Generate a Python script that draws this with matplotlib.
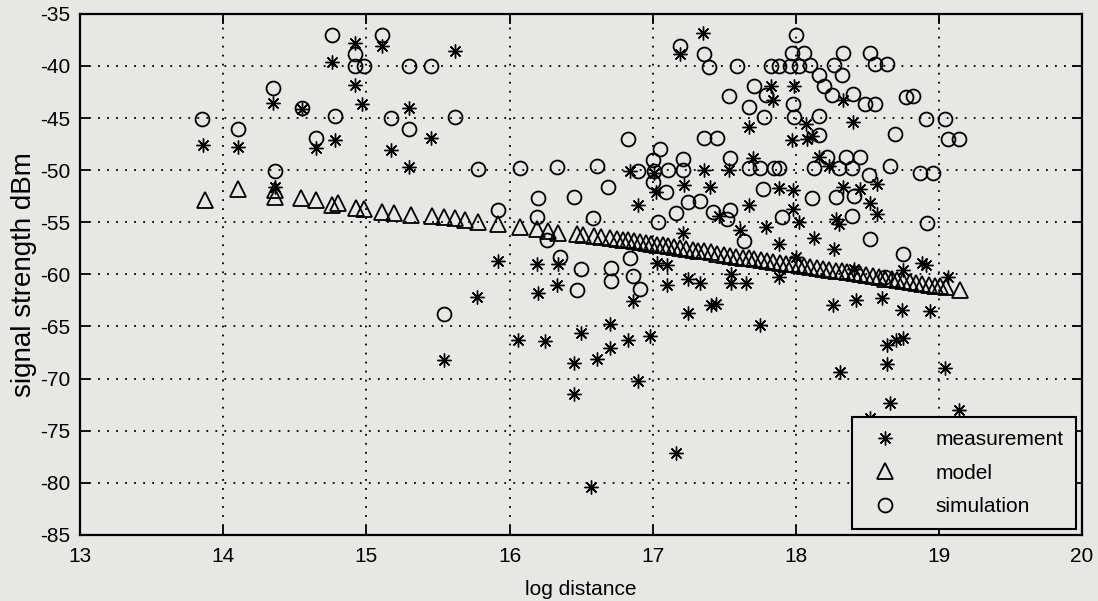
import matplotlib
matplotlib.use("Agg")
import matplotlib.pyplot as plt

# values
meas_x = [13.86, 14.10, 14.35, 14.55, 14.65, 14.78, 14.36, 14.76,
          14.92, 15.11, 14.92, 14.97, 15.30, 15.17, 15.45, 15.30, 15.62,
          15.92, 16.19, 16.34, 16.33, 16.20, 15.77,
          15.54, 16.06, 16.25, 16.50, 16.45, 16.61, 16.45, 16.57, 16.70, 16.70,
          17.35, 17.19, 17.83, 17.99, 17.84, 18.33, 18.40, 17.67, 18.07, 18.11,
          17.97, 18.08, 17.70, 18.16, 18.23, 16.84, 17.36, 17.53, 17.01, 17.40,
          17.22, 17.88, 17.98, 18.33, 18.45, 18.57, 16.90, 17.02, 17.67, 17.46,
          17.61, 17.79, 18.02, 17.98, 18.28, 18.30, 18.52, 18.57, 18.13, 18.27,
          17.21, 17.88, 18.00, 17.03, 17.10, 17.10, 17.25, 17.33, 17.55, 17.65,
          17.55, 17.88, 16.86, 17.44, 18.26, 18.42, 18.60, 18.74,
          18.88, 18.91, 18.75, 19.06, 18.94, 18.41,
          17.25, 17.41, 17.75, 16.83, 16.98, 16.90, 17.16, 18.31, 18.64, 18.64,
          18.66, 18.52, 18.70, 18.75, 19.04, 19.14]
meas_y = [-47.6, -47.8, -43.6, -44.1, -47.9, -47.1, -51.6, -39.6,
          -37.8, -38.1, -41.8, -43.7, -44.0, -48.1, -46.9, -49.7, -38.6,
          -58.7, -59.0, -59.0, -61.0, -61.8, -62.2,
          -68.2, -66.3, -66.4, -65.6, -68.5, -68.1, -71.5, -80.4, -64.8, -67.1,
          -36.8, -38.9, -41.9, -41.9, -43.3, -43.3, -45.4, -45.9, -45.6, -46.7,
          -47.1, -47.0, -48.8, -48.7, -49.6, -50.1, -50.0, -50.0, -50.3, -51.6,
          -51.4, -51.7, -51.9, -51.6, -51.8, -51.3, -53.3, -52.1, -53.3, -54.4,
          -55.7, -55.5, -55.0, -53.7, -54.7, -55.2, -53.2, -54.2, -56.5, -57.6,
          -56.0, -57.1, -58.3, -58.9, -59.1, -61.0, -60.4, -60.8, -60.8, -60.8,
          -60.0, -60.3, -62.6, -62.8, -62.9, -62.5, -62.3, -63.4,
          -58.9, -59.1, -59.6, -60.3, -63.5, -59.5,
          -63.7, -62.9, -64.9, -66.3, -65.9, -70.2, -77.1, -69.4, -66.8, -68.6,
          -72.3, -73.8, -66.3, -66.1, -69.0, -73.0]

model_x = [13.87, 14.10, 14.36, 14.36, 14.54, 14.65, 14.76, 14.80, 14.93, 14.98,
           15.11, 15.19, 15.31, 15.46, 15.54, 15.62, 15.69, 15.78, 15.92, 16.07,
           16.19, 16.27, 16.34, 16.47, 16.51, 16.59, 16.64, 16.70,
           16.75, 16.79, 16.83, 16.87, 16.91, 16.95, 16.99, 17.03, 17.07, 17.11,
           17.15, 17.19, 17.23, 17.28, 17.32, 17.36, 17.41, 17.45, 17.50, 17.54,
           17.58, 17.63, 17.67, 17.71, 17.76, 17.80, 17.84, 17.89, 17.93, 17.97,
           18.02, 18.06, 18.10, 18.15, 18.19, 18.23, 18.28, 18.32, 18.36, 18.41,
           18.45, 18.49, 18.54, 18.58, 18.62, 18.67, 18.71, 18.75, 18.80, 18.84,
           18.88, 18.93, 18.97, 19.01, 19.05, 19.15]
model_y = [-52.9, -51.8, -51.9, -52.6, -52.7, -52.9, -53.3, -53.2, -53.6, -53.7,
           -54.0, -54.1, -54.3, -54.4, -54.5, -54.6, -54.8, -55.0, -55.2, -55.5,
           -55.6, -55.8, -56.0, -56.1, -56.2, -56.3, -56.4, -56.5,
           -56.6, -56.7, -56.7, -56.8, -56.9, -57.0, -57.1, -57.2, -57.2, -57.3,
           -57.4, -57.5, -57.6, -57.7, -57.8, -57.8, -57.9, -58.0, -58.1, -58.2,
           -58.3, -58.4, -58.4, -58.5, -58.6, -58.7, -58.8, -58.9, -59.0, -59.0,
           -59.1, -59.2, -59.3, -59.4, -59.5, -59.6, -59.7, -59.7, -59.8, -59.9,
           -60.0, -60.1, -60.2, -60.3, -60.4, -60.4, -60.5, -60.6, -60.7, -60.8,
           -60.9, -61.0, -61.1, -61.1, -61.2, -61.5]

sim_x = [14.76, 13.85, 14.10, 14.35, 14.55, 14.65, 14.78, 14.36,
         15.11, 14.92, 14.92, 14.98, 15.30, 15.45, 15.17, 15.30, 15.62, 15.78,
         16.07, 16.33, 16.61, 16.69, 16.20, 16.45, 15.92, 16.19, 16.58, 16.26,
         16.35, 16.50, 16.47, 16.71, 16.71, 15.54,
         17.19, 17.36, 17.39, 17.59, 17.83, 17.88, 17.96, 18.00, 17.97, 18.06,
         18.02, 18.10, 18.16, 18.20, 18.25, 18.27, 18.33, 18.32, 18.40, 18.48,
         18.55, 18.52, 18.55, 18.64, 17.53, 17.71, 17.79, 17.67, 17.78, 17.98,
         17.99, 18.16, 18.16, 18.69, 16.83, 17.36, 17.45, 17.05, 17.00, 17.21,
         17.54, 16.90, 17.01, 17.11, 17.21, 17.00, 17.09, 17.67, 17.75, 17.85,
         17.88, 18.13, 18.22, 18.35, 18.45, 18.30, 18.39, 18.51, 18.66, 17.77,
         17.25, 17.33, 17.16, 17.42, 17.54, 17.52, 17.90, 18.11, 18.28, 18.41,
         18.39, 17.04, 17.64, 18.52, 18.75, 16.84, 16.86, 16.91,
         18.77, 18.82, 18.91, 19.04, 19.06, 19.14, 18.87, 18.96, 18.92, 18.62]
sim_y = [-37.0, -45.1, -46.1, -42.1, -44.0, -46.9, -44.8, -50.1,
         -37.0, -38.9, -40.0, -40.0, -40.0, -40.0, -45.0, -46.1, -44.9, -49.9,
         -49.8, -49.7, -49.6, -51.6, -52.7, -52.6, -53.8, -54.5, -54.6, -56.7,
         -58.3, -59.5, -61.5, -59.4, -60.6, -63.8,
         -38.1, -38.9, -40.1, -40.0, -40.0, -40.0, -40.0, -37.0, -38.8, -38.8,
         -40.0, -39.9, -40.9, -41.9, -42.8, -39.9, -38.8, -40.9, -42.7, -43.7,
         -43.7, -38.8, -39.8, -39.8, -42.9, -41.9, -42.8, -43.9, -44.9, -43.7,
         -44.9, -44.8, -46.6, -46.5, -47.0, -46.9, -46.9, -48.0, -49.0, -48.9,
         -48.8, -50.1, -50.1, -50.0, -50.0, -51.1, -52.1, -49.8, -49.8, -49.8,
         -49.8, -49.8, -48.7, -48.7, -48.7, -49.8, -49.8, -50.5, -49.6, -51.8,
         -53.1, -53.0, -54.1, -54.0, -53.8, -54.7, -54.5, -52.7, -52.6, -52.5,
         -54.4, -55.0, -56.8, -56.6, -58.0, -58.4, -60.2, -61.4,
         -43.0, -42.9, -45.1, -45.1, -47.0, -47.0, -50.3, -50.3, -55.1, -60.3]

x_ticks = [13, 14, 15, 16, 17, 18, 19, 20]
y_ticks = [-85, -80, -75, -70, -65, -60, -55, -50, -45, -40, -35]

paper = "#e7e7e5"
plt.rcParams['font.family'] = ['Liberation Sans', 'DejaVu Sans']
plt.rcParams['font.size'] = 15
plt.rcParams['axes.unicode_minus'] = False

fig = plt.figure(figsize=(10.98, 6.01), dpi=100, facecolor=paper)
ax = fig.add_axes([0.073, 0.11, 0.9125, 0.867], facecolor=paper)

star = (8, 2, 0)
ax.plot(meas_x, meas_y, linestyle='none', marker=star, markersize=10,
        markeredgewidth=1.0, color='black', label='measurement')
ax.plot(model_x, model_y, linestyle='none', marker='^', markersize=12,
        markerfacecolor='none', markeredgewidth=1.3, color='black', label='model')
ax.plot(sim_x, sim_y, linestyle='none', marker='o', markersize=10,
        markerfacecolor='none', markeredgewidth=1.3, color='black', label='simulation')

ax.set_xlim(13, 20)
ax.set_ylim(-85, -35)
ax.set_xticks(x_ticks)
ax.set_yticks(y_ticks)
ax.grid(True, color='black', linestyle=(0, (1, 4)), linewidth=1.3)
ax.tick_params(direction='in', top=True, right=True, length=7, width=1.3)
ax.tick_params(axis='x', pad=9)
ax.tick_params(axis='y', pad=7)
for sp in ax.spines.values():
    sp.set_linewidth(1.6)

ax.set_xlabel('log distance', labelpad=10)
ax.set_ylabel('signal strength dBm', fontsize=20, labelpad=2)

leg = ax.legend(loc='lower right', numpoints=1, fancybox=False, framealpha=1,
                edgecolor='black', facecolor=paper, borderaxespad=0.3,
                borderpad=0.6, handletextpad=1.4, labelspacing=0.7)
leg.get_frame().set_linewidth(1.5)

fig.savefig('out.png', dpi=100, facecolor=paper)
